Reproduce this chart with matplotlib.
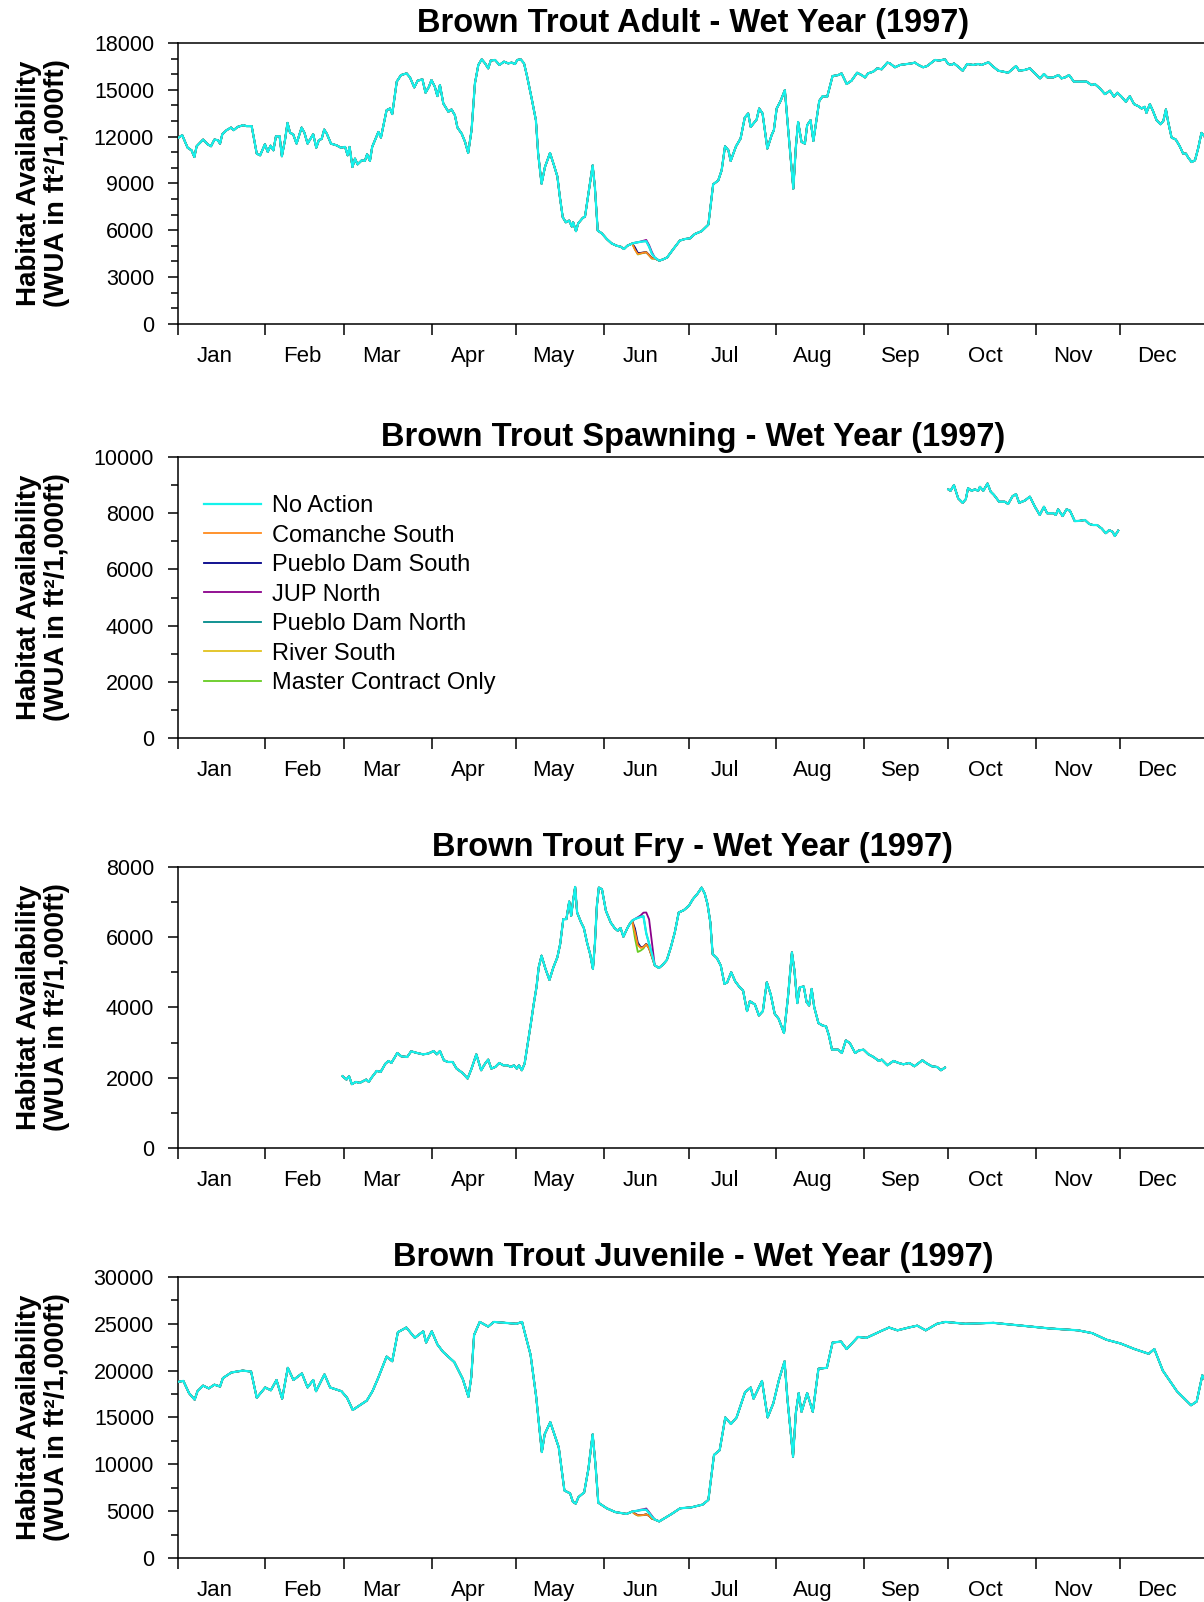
import numpy as np
import matplotlib
matplotlib.use("Agg")
import matplotlib.pyplot as plt
from matplotlib.ticker import MultipleLocator, FixedLocator, NullFormatter, FixedFormatter

plt.rcParams['font.family'] = ['Liberation Sans', 'DejaVu Sans']

# ---------------- categories ----------------
months = ['Jan', 'Feb', 'Mar', 'Apr', 'May', 'Jun', 'Jul', 'Aug', 'Sep', 'Oct', 'Nov', 'Dec']
month_starts = [1, 32, 60, 91, 121, 152, 182, 213, 244, 274, 305, 335, 366]

scenarios = ['No Action', 'Comanche South', 'Pueblo Dam South', 'JUP North',
             'Pueblo Dam North', 'River South', 'Master Contract Only']
colors = ['#14F2EC', '#FF8A1C', '#000088', '#8A008A', '#008A8A', '#E2C21E', '#66CC22']

# ---------------- Adult (day of year, WUA) ----------------
adult_pre_days = [1.0, 2.6, 4.5, 5.9, 6.9, 7.7, 10.0, 11.6, 12.8, 14.0,
                  15.2, 16.0, 16.8, 18.3, 19.9, 20.8, 22.2, 24.2, 25.4, 27.2,
                  29.0, 30.2, 31.9, 32.9, 33.9, 34.9, 35.8, 37.1, 37.9, 39.0,
                  39.9, 40.8, 41.9, 43.1, 44.9, 45.9, 47.0, 49.0, 50.1, 51.0,
                  52.0, 52.9, 53.8, 55.3, 57.3, 58.8, 60.3, 61.2, 61.9, 62.9,
                  63.8, 64.7, 66.2, 67.3, 68.1, 69.1, 69.9, 72.1, 73.0, 75.0,
                  76.2, 77.0, 78.6, 80.1, 82.1, 83.3, 84.8, 86.0, 87.7, 88.8,
                  90.0, 90.9, 92.1, 93.0, 93.9, 95.1, 96.9, 98.0, 99.2, 100.1,
                  101.6, 102.8, 103.9, 105.1, 106.3, 107.5, 108.7, 109.9, 111.0, 111.9,
                  113.4, 115.0, 116.6, 118.1, 119.3, 120.5, 121.3, 122.5, 123.7, 124.8,
                  126.4, 127.9, 128.7, 129.9, 131.1, 132.9, 134.3, 135.5, 136.4, 137.4,
                  138.5, 139.7, 140.6, 141.1, 142.1, 142.9, 144.5, 145.3, 146.5, 148.0,
                  148.8, 149.8, 151.2, 153.0, 154.7, 156.5, 157.9, 159.1, 160.3]
adult_pre_vals = [11900, 12090, 11290, 11120, 10690, 11380, 11810, 11510, 11380, 11810,
                  11770, 11550, 12150, 12410, 12580, 12410, 12620, 12730, 12670, 12670,
                  10910, 10800, 11510, 11020, 11420, 11120, 12020, 12020, 10740, 11770,
                  12880, 12240, 12150, 11550, 12580, 12240, 11550, 12150, 11290, 11770,
                  11850, 12450, 12190, 11550, 11440, 11290, 11340, 10800, 11340, 10050,
                  10590, 10220, 10480, 10440, 10870, 10440, 11340, 12300, 11940, 13690,
                  13800, 13440, 15520, 15940, 16050, 15790, 15150, 15580, 15670, 14810,
                  15190, 15620, 15190, 14590, 15300, 14120, 13590, 13740, 13370, 12580,
                  12190, 11660, 10950, 12410, 15410, 16590, 16950, 16690, 16370, 16870,
                  16910, 16590, 16800, 16690, 16740, 16650, 16910, 16950, 16690, 15840,
                  14440, 13050, 10910, 8980, 10050, 10950, 10160, 9450, 8120, 6840,
                  6510, 6620, 6240, 6510, 5940, 6450, 6790, 6880, 8340, 10160,
                  8760, 5980, 5810, 5440, 5160, 5010, 4950, 4800, 5010]
adult_post_days = [171.6, 173.0, 174.4, 176.6, 178.9, 180.7, 182.5, 184.2, 186.6, 189.0,
                   190.7, 192.5, 193.7, 194.9, 196.1, 196.9, 198.8, 200.4, 201.9, 203.1,
                   204.0, 206.1, 207.0, 208.2, 209.9, 211.4, 212.2, 213.2, 214.6, 216.1,
                   217.3, 219.1, 220.0, 220.8, 222.0, 223.2, 224.0, 225.2, 226.2, 227.1,
                   228.3, 229.5, 231.1, 233.0, 235.0, 236.2, 238.0, 239.7, 241.7, 243.3,
                   244.5, 245.6, 247.4, 248.8, 250.4, 252.4, 253.3, 255.1, 256.9, 259.2,
                   261.0, 262.2, 263.4, 265.1, 266.5, 268.1, 269.3, 270.8, 272.8, 274.0,
                   275.2, 276.0, 277.5, 279.1, 280.7, 282.8, 284.6, 285.8, 288.2, 289.9,
                   291.7, 293.5, 295.2, 296.4, 298.0, 299.1, 301.1, 302.9, 304.7, 306.5,
                   307.9, 309.1, 311.2, 313.0, 314.1, 315.3, 316.8, 318.5, 320.6, 323.0,
                   324.8, 325.9, 327.7, 329.5, 331.3, 332.7, 333.9, 335.4, 336.9, 338.3,
                   339.8, 341.3, 342.5, 343.6, 344.2, 345.4, 346.4, 347.8, 349.2, 350.2,
                   351.1, 351.9, 353.1, 354.6, 356.0, 357.2, 358.2, 359.0, 360.2, 361.4,
                   362.5, 363.7, 365.0]
adult_post_vals = [4050, 4140, 4260, 4800, 5340, 5440, 5480, 5760, 5940, 6360,
                   8940, 9190, 9840, 11380, 11120, 10440, 11380, 11870, 13220, 13480,
                   12620, 13090, 13800, 13480, 11230, 12090, 12410, 13800, 14290, 14980,
                   12410, 8660, 11340, 12940, 11660, 11550, 12730, 13050, 11720, 12840,
                   14290, 14590, 14550, 15880, 15940, 16050, 15370, 15580, 16090, 15940,
                   15790, 16050, 16160, 16370, 16310, 16740, 16690, 16440, 16590, 16650,
                   16690, 16740, 16590, 16440, 16520, 16740, 16910, 16870, 16950, 16650,
                   16590, 16690, 16480, 16220, 16650, 16590, 16650, 16590, 16760, 16480,
                   16220, 16160, 16090, 16270, 16520, 16220, 16270, 16370, 16050, 15730,
                   16010, 15790, 15790, 15940, 15730, 15790, 15940, 15520, 15520, 15520,
                   15300, 15370, 15090, 14720, 14940, 14550, 14810, 14550, 14230, 14590,
                   14080, 13950, 13800, 13910, 13520, 14080, 13690, 13050, 12790, 13010,
                   13740, 12940, 11940, 11810, 11380, 10910, 10910, 10650, 10370, 10480,
                   11230, 12240, 11950]
window_days = [162, 163, 164, 165, 166, 167, 168, 169, 170]
adult_window = {
    'No Action':            [5150, 5200, 5230, 5260, 5290, 5300, 4950, 4500, 4250],
    'Comanche South':       [5150, 4750, 4480, 4520, 4560, 4590, 4400, 4200, 4200],
    'Pueblo Dam South':     [5150, 4900, 4550, 4550, 4580, 4600, 4420, 4220, 4200],
    'JUP North':            [5150, 5200, 5230, 5280, 5330, 5380, 5050, 4600, 4250],
    'Pueblo Dam North':     [5150, 5200, 5230, 5260, 5290, 5300, 4950, 4500, 4250],
    'River South':          [5150, 4780, 4500, 4530, 4570, 4600, 4400, 4200, 4200],
    'Master Contract Only': [5150, 4800, 4450, 4500, 4550, 4580, 4400, 4180, 4200],
}

# ---------------- Spawning ----------------
spawn_days = [274.0, 274.8, 276.0, 277.5, 279.1, 280.2, 281.0, 282.3, 283.4, 284.6,
              285.2, 286.4, 287.9, 289.0, 290.2, 292.0, 294.0, 295.2, 296.8, 298.0,
              299.1, 301.1, 302.9, 304.7, 306.4, 307.9, 309.0, 311.2, 312.1, 312.9,
              314.5, 315.9, 317.1, 318.8, 320.6, 322.4, 323.9, 325.3, 326.7, 328.3,
              329.8, 331.0, 332.2, 333.0, 334.2]
spawn_vals = [8850, 8800, 9000, 8530, 8370, 8500, 8890, 8800, 8850, 8800,
              8940, 8800, 9060, 8770, 8650, 8410, 8410, 8330, 8610, 8680,
              8370, 8450, 8590, 8230, 7940, 8230, 8000, 8000, 7940, 8140,
              7900, 8140, 8090, 7720, 7730, 7760, 7620, 7580, 7580, 7460,
              7290, 7400, 7340, 7190, 7380]

# ---------------- Fry ----------------
fry_pre_days = [59.4, 60.8, 61.7, 62.7, 64.1, 65.5, 66.9, 67.8, 68.7, 69.7,
                71.5, 72.9, 74.6, 75.7, 76.7, 78.8, 80.2, 82.3, 83.7, 85.8,
                87.9, 89.7, 91.7, 92.8, 93.9, 95.3, 96.7, 98.4, 99.8, 101.9,
                103.7, 105.1, 106.8, 108.5, 109.9, 111.0, 112.1, 113.5, 114.9, 116.3,
                117.7, 119.1, 120.1, 121.1, 121.9, 122.9, 123.9, 125.0, 126.1, 127.1,
                128.1, 128.9, 129.9, 131.3, 132.7, 134.1, 135.5, 136.5, 137.6, 138.7,
                139.7, 140.4, 141.1, 141.8, 142.5, 143.9, 144.9, 146.0, 147.1, 148.1,
                148.8, 149.5, 150.2, 151.3, 152.7, 154.4, 155.8, 156.9, 157.9, 158.9,
                160.3, 161.3]
fry_pre_vals = [2043, 1948, 2043, 1816, 1882, 1854, 1910, 1948, 1882, 2005,
                2194, 2166, 2402, 2478, 2421, 2705, 2610, 2591, 2752, 2705,
                2667, 2686, 2761, 2667, 2761, 2497, 2449, 2449, 2260, 2137,
                1977, 2260, 2667, 2213, 2402, 2516, 2260, 2307, 2421, 2355,
                2355, 2307, 2355, 2260, 2355, 2213, 2402, 2970, 3537, 4085,
                4577, 5145, 5476, 5097, 4785, 5145, 5428, 5807, 6516, 6516,
                7017, 6610, 7055, 7433, 6705, 6421, 6260, 5854, 5523, 5097,
                5807, 6894, 7414, 7367, 6752, 6421, 6260, 6185, 6260, 6015,
                6260, 6400]
fry_post_days = [171.5, 172.9, 174.3, 175.7, 177.1, 178.5, 180.3, 182.1, 183.5, 185.2,
                 186.6, 187.7, 188.7, 189.7, 190.5, 192.0, 193.4, 194.7, 195.7, 197.1,
                 198.5, 199.9, 201.3, 202.7, 203.7, 205.5, 206.9, 208.3, 209.7, 211.1,
                 212.5, 213.9, 215.8, 217.2, 218.6, 219.5, 220.5, 221.4, 222.8, 223.8,
                 224.7, 225.6, 226.5, 228.0, 229.4, 230.7, 231.7, 232.8, 235.0, 236.3,
                 237.7, 239.1, 241.0, 242.4, 244.0, 245.7, 247.5, 249.4, 250.4, 252.4,
                 254.6, 256.4, 258.1, 260.2, 262.0, 264.8, 266.5, 268.2, 270.0, 271.4,
                 272.8]
fry_post_vals = [5126, 5220, 5353, 5712, 6137, 6705, 6771, 6894, 7083, 7244,
                 7414, 7244, 6941, 6421, 5523, 5409, 5192, 4672, 4719, 5003,
                 4747, 4596, 4483, 3896, 4180, 4085, 3773, 3896, 4719, 4369,
                 3821, 3679, 3272, 4294, 5570, 5050, 4123, 4577, 4596, 4152,
                 4057, 4530, 4010, 3556, 3490, 3461, 3206, 2799, 2799, 2705,
                 3064, 2988, 2705, 2780, 2799, 2667, 2591, 2478, 2516, 2355,
                 2478, 2421, 2383, 2421, 2326, 2497, 2402, 2326, 2307, 2213,
                 2288]
fry_window = {
    'No Action':            [6470, 6520, 6550, 6580, 6600, 6110, 5820, 5530, 5200],
    'Comanche South':       [6470, 6150, 5780, 5700, 5720, 5800, 5680, 5450, 5200],
    'Pueblo Dam South':     [6470, 6250, 5850, 5720, 5730, 5810, 5690, 5450, 5200],
    'JUP North':            [6470, 6520, 6570, 6620, 6700, 6705, 6510, 5850, 5200],
    'Pueblo Dam North':     [6470, 6520, 6550, 6580, 6600, 6110, 5820, 5530, 5200],
    'River South':          [6470, 6150, 5780, 5700, 5720, 5800, 5680, 5450, 5200],
    'Master Contract Only': [6470, 5970, 5580, 5620, 5680, 5807, 5680, 5450, 5200],
}

# ---------------- Juvenile ----------------
juv_pre_days = [1, 3, 5, 7, 8, 10, 12, 14, 16, 17,
                20, 24, 27, 29, 32, 34, 36, 38, 40, 42,
                45, 47, 49, 50, 53, 55, 59, 61, 63, 65,
                68, 70, 72, 75, 77, 79, 82, 85, 88, 89,
                91, 93, 95, 99, 102, 104, 105, 106, 108, 111,
                113, 117, 121, 123, 124, 126, 128, 130, 131, 133,
                136, 138, 140, 141, 142, 143, 145, 146.5, 148, 149,
                150, 153, 156, 160]
juv_pre_vals = [18800, 18900, 17600, 16900, 17800, 18400, 18100, 18500, 18300, 19200,
                19800, 20000, 19900, 17100, 18200, 17900, 19000, 17000, 20300, 19000,
                19700, 18200, 19000, 17800, 19600, 18200, 17800, 17100, 15800, 16200,
                16800, 17800, 19200, 21500, 21000, 24100, 24600, 23500, 24200, 23000,
                24200, 22800, 22000, 20900, 19100, 17200, 19300, 23800, 25200, 24700,
                25200, 25100, 25000, 25200, 24000, 21700, 17200, 11300, 13200, 14500,
                11800, 7200, 6900, 6000, 5800, 6500, 7000, 9500, 13200, 10000,
                5900, 5300, 4900, 4700]
juv_post_days = [171.6, 176, 179, 183, 187, 189, 191, 193, 195, 197,
                 199, 202, 204, 205, 208, 210, 212, 214, 216, 217,
                 219, 220, 221, 222, 224, 226, 228, 231, 233, 236,
                 238, 242, 245, 250, 253, 256, 260, 263, 266, 270,
                 273, 280, 290, 300, 310, 320, 325, 330, 335, 340,
                 345, 347, 350, 355, 360, 362, 364, 365]
juv_post_vals = [3900, 4700, 5300, 5400, 5700, 6200, 11000, 11500, 15000, 14300,
                 15000, 17700, 18200, 17000, 18900, 15000, 16500, 19000, 21000, 17000,
                 10800, 15500, 17600, 15600, 17600, 15600, 20200, 20300, 23000, 23100,
                 22300, 23600, 23500, 24200, 24600, 24300, 24600, 24800, 24300, 25000,
                 25200, 25000, 25100, 24800, 24500, 24300, 24000, 23300, 22900, 22300,
                 21800, 22300, 20000, 17800, 16300, 16700, 19500, 19000]
juv_window = {
    'No Action':            [4950, 5000, 5050, 5100, 5150, 5150, 4800, 4400, 4100],
    'Comanche South':       [4950, 4700, 4550, 4560, 4580, 4650, 4500, 4200, 4100],
    'Pueblo Dam South':     [4950, 4750, 4580, 4570, 4590, 4660, 4500, 4200, 4100],
    'JUP North':            [4950, 5000, 5050, 5150, 5200, 5280, 4900, 4500, 4100],
    'Pueblo Dam North':     [4950, 5000, 5050, 5100, 5150, 5150, 4800, 4400, 4100],
    'River South':          [4950, 4700, 4550, 4560, 4580, 4650, 4500, 4200, 4100],
    'Master Contract Only': [4950, 4680, 4530, 4550, 4570, 4650, 4500, 4200, 4100],
}


def assemble(pre_d, pre_v, wd, wv, post_d, post_v):
    return (np.concatenate([pre_d, wd, post_d]),
            np.concatenate([pre_v, wv, post_v]))


fig = plt.figure(figsize=(12.04, 16.02), dpi=100)
left, width, height = 0.1476, 0.8557, 0.1754
bottoms = [0.7978, 0.5393, 0.2834, 0.0275]

panels = [
    dict(title='Brown Trout Adult - Wet Year (1997)', ymax=18000, major=3000, minor=1000),
    dict(title='Brown Trout Spawning - Wet Year (1997)', ymax=10000, major=2000, minor=1000),
    dict(title='Brown Trout Fry - Wet Year (1997)', ymax=8000, major=2000, minor=1000),
    dict(title='Brown Trout Juvenile - Wet Year (1997)', ymax=30000, major=5000, minor=2500),
]

label_pos = [s + 13 for s in month_starts[:-1]]

axes = []
for i, p in enumerate(panels):
    ax = fig.add_axes([left, bottoms[i], width, height])
    axes.append(ax)
    ax.set_xlim(1, 366)
    ax.set_ylim(0, p['ymax'])
    ax.yaxis.set_major_locator(MultipleLocator(p['major']))
    ax.yaxis.set_minor_locator(MultipleLocator(p['minor']))
    ax.xaxis.set_major_locator(FixedLocator(month_starts))
    ax.xaxis.set_major_formatter(NullFormatter())
    ax.xaxis.set_minor_locator(FixedLocator(label_pos))
    ax.xaxis.set_minor_formatter(FixedFormatter(months))
    ax.tick_params(axis='x', which='major', direction='out', length=8, width=1.1)
    ax.tick_params(axis='x', which='minor', length=0, pad=16, labelsize=16)
    ax.tick_params(axis='y', which='major', direction='out', length=7, width=1.1,
                   pad=10, labelsize=15.5)
    ax.tick_params(axis='y', which='minor', direction='out', length=5, width=1.1)
    for s in ['left', 'bottom', 'top']:
        ax.spines[s].set_linewidth(1.1)
    ax.spines['right'].set_visible(False)
    ax.set_title(p['title'], fontsize=23.5, fontweight='bold', pad=8)
    ax.text(-0.131, 0.5, 'Habitat Availability\n(WUA in ft\u00b2/1,000ft)',
            rotation=90, transform=ax.transAxes, ha='center', va='center',
            fontsize=20, fontweight='bold', linespacing=1.12)

# draw order: No Action last (on top)
order = list(range(len(scenarios)))[::-1]

for k in order:
    name = scenarios[k]
    lw = 1.6 if k == 0 else 1.3
    z = 4 if k == 0 else 3
    d, v = assemble(adult_pre_days, adult_pre_vals, window_days, adult_window[name],
                    adult_post_days, adult_post_vals)
    axes[0].plot(d, v, color=colors[k], lw=lw, label=name, zorder=z)
    axes[1].plot(spawn_days, spawn_vals, color=colors[k], lw=lw, label=name, zorder=z)
    d, v = assemble(fry_pre_days, fry_pre_vals, window_days, fry_window[name],
                    fry_post_days, fry_post_vals)
    axes[2].plot(d, v, color=colors[k], lw=lw, label=name, zorder=z)
    d, v = assemble(juv_pre_days, juv_pre_vals, window_days, juv_window[name],
                    juv_post_days, juv_post_vals)
    axes[3].plot(d, v, color=colors[k], lw=lw, label=name, zorder=z)

handles, labels = axes[1].get_legend_handles_labels()
hmap = dict(zip(labels, handles))
axes[1].legend([hmap[s] for s in scenarios], scenarios, loc='upper left',
               bbox_to_anchor=(0.0255, 0.865), borderaxespad=0, borderpad=0,
               frameon=False, fontsize=17, handlelength=2.4, handletextpad=0.5,
               labelspacing=0.32)

fig.savefig('out.png', dpi=100)
